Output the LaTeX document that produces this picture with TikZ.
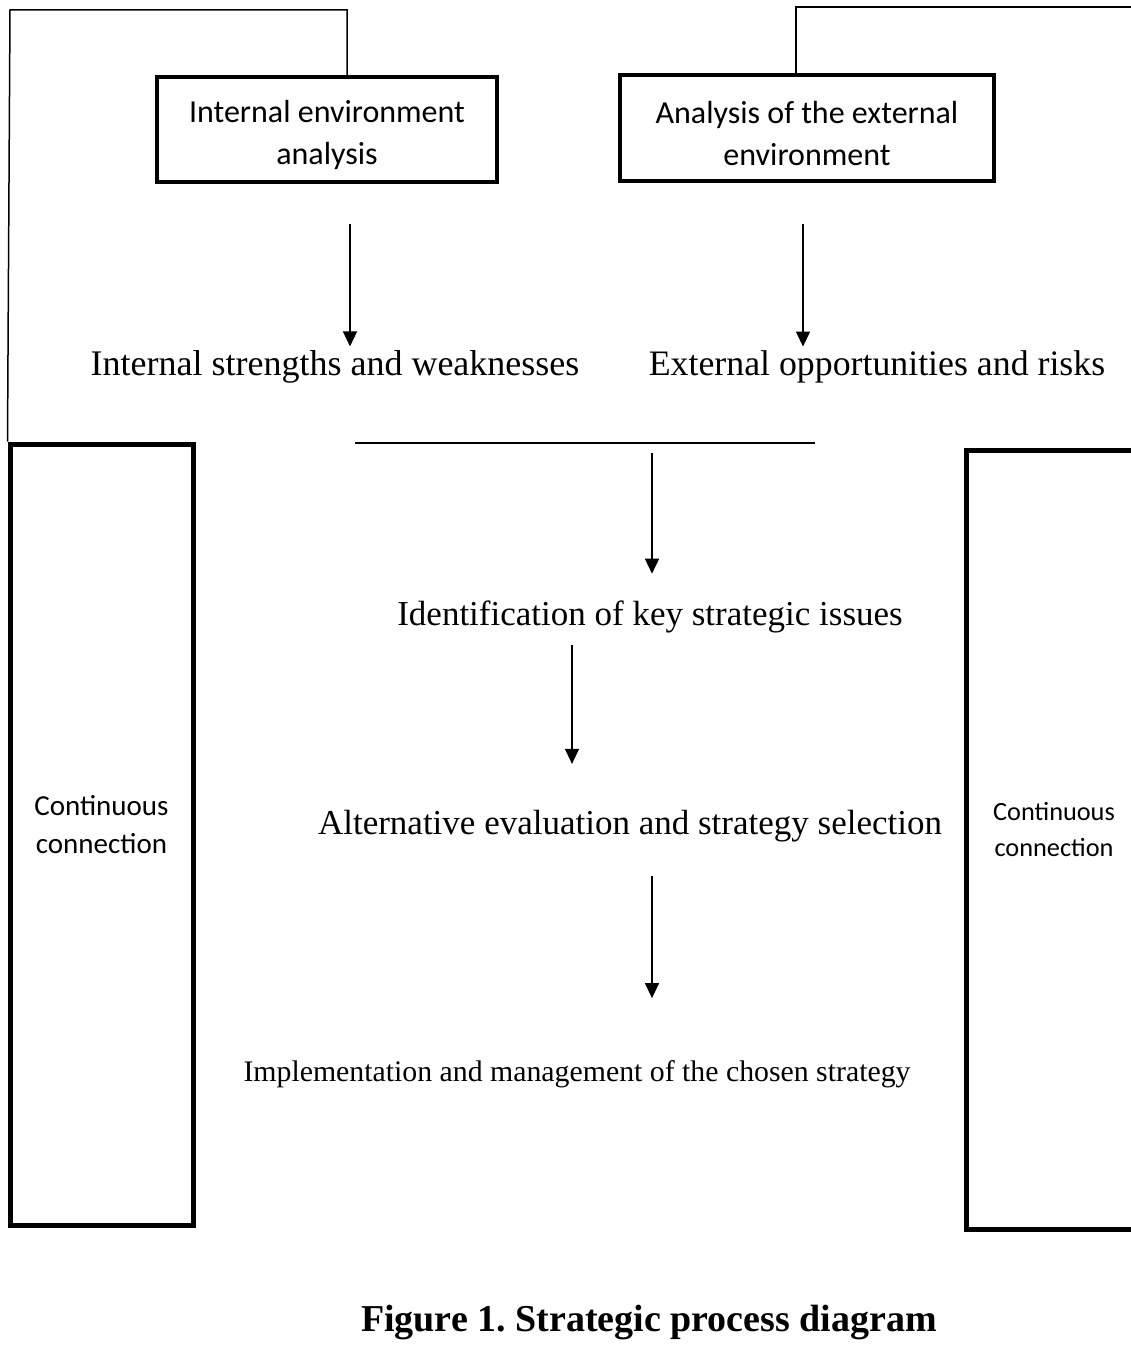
\documentclass[tikz,border=0pt]{standalone}
\usepackage{fontspec}
\setmainfont{Liberation Serif}
\newfontfamily\boxfont{Carlito}
\usetikzlibrary{arrows.meta}
\begin{document}
\begin{tikzpicture}[x=1pt,y=-1pt,
  thinline/.style={line width=1.5pt, black},
  arr/.style={thinline, -{Triangle[width=14pt,length=15pt]}},
  topbox/.style={draw, line width=4pt, rectangle, align=center, inner sep=0pt,
    font=\boxfont\fontsize{32}{42}\selectfont},
  sidebox/.style={draw, line width=5pt, rectangle, align=center, inner sep=0pt},
  lbl/.style={inner sep=2pt, font=\fontsize{35}{42}\selectfont}]
\useasboundingbox (0,0) rectangle (1130,1348);
% top boxes
\node[topbox, minimum width=340, minimum height=105] (ie) at (327,129.5) {\rule{0pt}{34pt}Internal environment\\analysis};
\node[topbox, minimum width=374, minimum height=106] (ee) at (807,128) {\rule{0pt}{34pt}Analysis of the external\\environment};
% side boxes
\node[sidebox, minimum width=183, minimum height=781, font=\boxfont\fontsize{29}{38}\selectfont] (lb) at (101.5,834.5) {Continuous\\connection\\[-18pt]\mbox{}};
\node[sidebox, minimum width=176, minimum height=779, font=\boxfont\fontsize{26.3}{36}\selectfont] (rb) at (1054,839.5) {Continuous\\connection\\[-16pt]\mbox{}};
% frame lines
\coordinate (tl) at (10,10);
\coordinate (tm) at (347,10);
\draw[thinline] (lb.north west) -- (tl) -- (tm) -- (tm |- ie.north);
\coordinate (tr) at (1135,7);
\coordinate (trm) at (796,7);
\draw[thinline] (tr) -- (trm) -- (trm |- ee.north);
% level 2 labels
\node[lbl, font=\fontsize{36}{42}\selectfont] (isw) at (335,367) {Internal strengths and weaknesses};
\node[lbl, font=\fontsize{35.8}{42}\selectfont] (eor) at (877,367) {External opportunities and risks};
\coordinate (a1) at (350,224);
\coordinate (a2) at (803,224);
\draw[arr, shorten >=2pt] (a1) -- (a1 |- isw.north);
\draw[arr, shorten >=2pt] (a2) -- (a2 |- eor.north);
% join line
\coordinate (h1) at (355,443);
\coordinate (h2) at (815,443);
\draw[thinline] (h1) -- (h2);
\node[lbl] (iks) at (650,617) {Identification of key strategic issues};
\coordinate (a3) at (652,453);
\draw[arr, shorten >=25pt] (a3) -- (a3 |- iks.north);
\node[lbl] (aes) at (630,826) {Alternative evaluation and strategy selection};
\coordinate (a4) at (572,645);
\draw[arr, shorten >=44pt] (a4) -- (a4 |- aes.north);
\node[lbl, font=\fontsize{29.8}{36}\selectfont] (imp) at (577,1074) {Implementation and management of the chosen strategy};
\coordinate (a5) at (652,876);
\draw[arr, shorten >=60pt] (a5) -- (a5 |- imp.north);
% caption
\node[font=\bfseries\fontsize{38}{44}\selectfont] (cap) at (649,1322) {\frenchspacing Figure 1. Strategic process diagram};
\end{tikzpicture}
\end{document}
